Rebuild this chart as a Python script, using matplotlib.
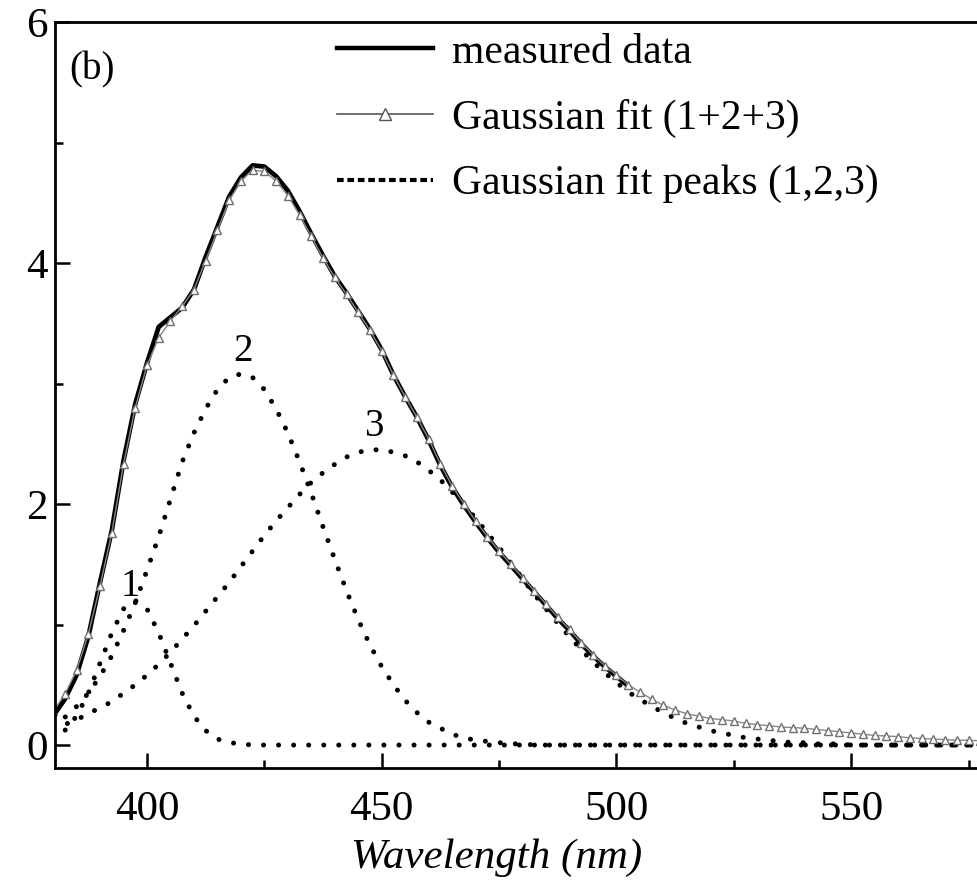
import matplotlib
matplotlib.use("Agg")
import matplotlib.pyplot as plt
from matplotlib.lines import Line2D
from matplotlib.ticker import MultipleLocator

plt.rcParams['font.family'] = ['Liberation Serif', 'DejaVu Serif']

# wavelength grid (nm), 2.5 nm steps
wl = [380 + 2.5 * i for i in range(80)]

# measured spectrum (stops near 502 nm)
measured = [0.24, 0.38, 0.58, 0.90, 1.35, 1.78, 2.36, 2.83, 3.17, 3.47,
            3.55, 3.63, 3.78, 4.05, 4.30, 4.55, 4.71, 4.81, 4.80, 4.72,
            4.60, 4.43, 4.24, 4.06, 3.89, 3.75, 3.60, 3.45, 3.28, 3.07,
            2.89, 2.72, 2.53, 2.32, 2.14, 1.99, 1.85, 1.72, 1.60, 1.49,
            1.38, 1.27, 1.16, 1.05, 0.95, 0.84, 0.74, 0.65, 0.57, 0.49]

# Gaussian fit (1+2+3)
fit = [0.28, 0.42, 0.62, 0.92, 1.32, 1.76, 2.33, 2.80, 3.15, 3.38,
       3.52, 3.64, 3.78, 4.02, 4.27, 4.52, 4.68, 4.77, 4.76, 4.68,
       4.56, 4.40, 4.22, 4.04, 3.88, 3.74, 3.59, 3.44, 3.27, 3.07,
       2.89, 2.72, 2.54, 2.33, 2.15, 2.00, 1.86, 1.73, 1.61, 1.50,
       1.39, 1.28, 1.17, 1.06, 0.96, 0.85, 0.75, 0.66, 0.58, 0.50,
       0.44, 0.38, 0.33, 0.29, 0.26, 0.24, 0.22, 0.21, 0.20, 0.18,
       0.17, 0.16, 0.15, 0.145, 0.14, 0.13, 0.12, 0.11, 0.10, 0.09,
       0.08, 0.075, 0.07, 0.06, 0.055, 0.05, 0.045, 0.04, 0.04, 0.035]

# individual fitted peaks
peak1 = [0.05, 0.12, 0.24, 0.43, 0.68, 0.93, 1.13, 1.20, 1.13, 0.93,
         0.68, 0.43, 0.24, 0.12, 0.05, 0.02, 0.01, 0.0, 0.0, 0.0,
         0.0, 0.0, 0.0, 0.0, 0.0, 0.0, 0.0, 0.0, 0.0, 0.0,
         0.0, 0.0, 0.0, 0.0, 0.0, 0.0, 0.0, 0.0, 0.0, 0.0,
         0.0, 0.0, 0.0, 0.0, 0.0, 0.0, 0.0, 0.0, 0.0, 0.0,
         0.0, 0.0, 0.0, 0.0, 0.0, 0.0, 0.0, 0.0, 0.0, 0.0,
         0.0, 0.0, 0.0, 0.0, 0.0, 0.0, 0.0, 0.0, 0.0, 0.0,
         0.0, 0.0, 0.0, 0.0, 0.0, 0.0, 0.0, 0.0, 0.0, 0.0]
peak2 = [0.16, 0.23, 0.32, 0.43, 0.57, 0.74, 0.95, 1.18, 1.45, 1.73,
         2.04, 2.35, 2.59, 2.79, 2.95, 3.05, 3.08, 3.05, 2.95, 2.79,
         2.59, 2.35, 2.09, 1.81, 1.54, 1.28, 1.04, 0.83, 0.65, 0.50,
         0.37, 0.27, 0.19, 0.14, 0.09, 0.06, 0.04, 0.03, 0.02, 0.01,
         0.01, 0.0, 0.0, 0.0, 0.0, 0.0, 0.0, 0.0, 0.0, 0.0,
         0.0, 0.0, 0.0, 0.0, 0.0, 0.0, 0.0, 0.0, 0.0, 0.0,
         0.0, 0.0, 0.0, 0.0, 0.0, 0.0, 0.0, 0.0, 0.0, 0.0,
         0.0, 0.0, 0.0, 0.0, 0.0, 0.0, 0.0, 0.0, 0.0, 0.0]
peak3 = [0.14, 0.17, 0.21, 0.26, 0.31, 0.36, 0.43, 0.50, 0.58, 0.67,
         0.77, 0.88, 0.99, 1.11, 1.23, 1.35, 1.48, 1.61, 1.74, 1.86,
         1.97, 2.08, 2.18, 2.26, 2.33, 2.39, 2.43, 2.45, 2.45, 2.43,
         2.40, 2.35, 2.28, 2.20, 2.10, 2.00, 1.88, 1.76, 1.64, 1.51,
         1.38, 1.25, 1.13, 1.01, 0.90, 0.79, 0.69, 0.60, 0.52, 0.44,
         0.38, 0.32, 0.27, 0.22, 0.18, 0.15, 0.12, 0.10, 0.08, 0.06,
         0.05, 0.04, 0.03, 0.02, 0.02, 0.01, 0.01, 0.01, 0.0, 0.0,
         0.0, 0.0, 0.0, 0.0, 0.0, 0.0, 0.0, 0.0, 0.0, 0.0]

peak_labels = ['1', '2', '3']
peak_label_pos = [(396.4, 1.16), (420.5, 3.11), (448.2, 2.49)]

fig = plt.figure(figsize=(9.78, 8.94), dpi=100)
ax = fig.add_axes([0.0562, 0.141, 0.9438, 0.8344])

dot_style = dict(color='black', lw=3.6, linestyle=(0, (0.01, 3.0)),
                 dash_capstyle='round')
for pk in (peak1, peak2, peak3):
    ax.plot(wl, pk, **dot_style)

ax.plot(wl[:len(measured)], measured, color='black', lw=3.4,
        solid_capstyle='butt')
ax.plot(wl, fit, color='#888888', lw=1.0, marker='^', markersize=6,
        markerfacecolor='white', markeredgecolor='#707070',
        markeredgewidth=1.0)

for txt, (x, y) in zip(peak_labels, peak_label_pos):
    ax.text(x, y, txt, fontsize=28, ha='center', va='bottom')

ax.text(0.016, 0.936, '(b)', transform=ax.transAxes, fontsize=28,
        ha='left', va='center')

ax.set_xlim(380.4, 577)
ax.set_ylim(-0.19, 6)
ax.xaxis.set_major_locator(MultipleLocator(50))
ax.xaxis.set_minor_locator(MultipleLocator(25))
ax.yaxis.set_major_locator(MultipleLocator(2))
ax.yaxis.set_minor_locator(MultipleLocator(1))
ax.tick_params(which='both', direction='in', width=1.8, labelsize=31,
               top=False, right=False)
ax.tick_params(which='major', length=11)
ax.tick_params(which='minor', length=6)
ax.tick_params(axis='x', which='major', pad=16)
ax.tick_params(axis='y', which='major', pad=5)
for s in ('left', 'bottom', 'top'):
    ax.spines[s].set_linewidth(2.0)
ax.spines['right'].set_visible(False)

ax.set_xlabel('Wavelength (nm)', fontsize=31, style='italic')
ax.xaxis.set_label_coords(0.479, -0.095)

handles = [
    Line2D([], [], color='black', lw=3.2),
    Line2D([], [], color='#555555', lw=1.2, marker='^', markersize=9,
           markerfacecolor='white', markeredgecolor='#555555'),
    Line2D([], [], color='black', lw=3.0, linestyle=(0, (1.6, 0.9))),
]
labels = ['measured data', 'Gaussian fit (1+2+3)', 'Gaussian fit peaks (1,2,3)']
ax.legend(handles, labels, loc='upper left', bbox_to_anchor=(0.265, 1.035),
          frameon=False, fontsize=30, handlelength=2.3, handletextpad=0.45,
          labelspacing=0.64, markerscale=1.0)

fig.savefig('out.png', dpi=100)
